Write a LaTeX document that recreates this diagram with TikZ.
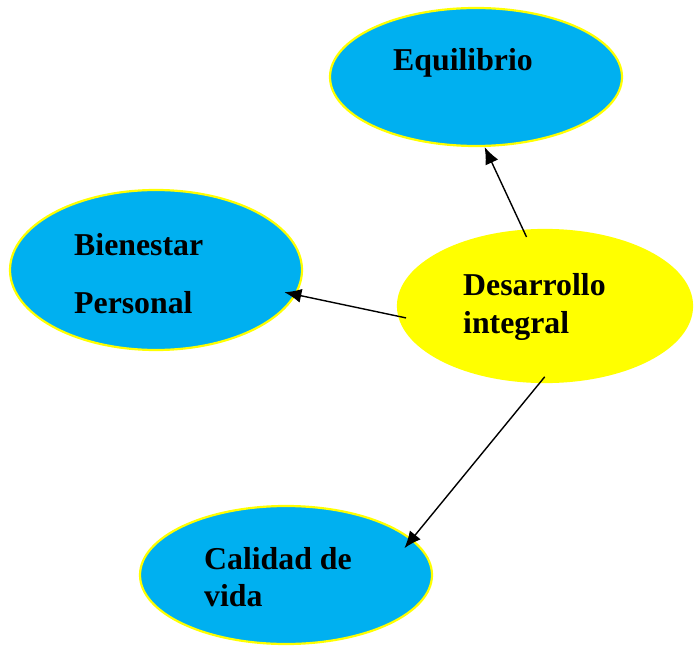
\documentclass[tikz,border=0pt]{standalone}
\usepackage{fontspec}
\setmainfont{Liberation Serif}
\usetikzlibrary{shapes.geometric,arrows.meta}

\definecolor{skyblue}{HTML}{00B0F0}
\definecolor{brightyellow}{HTML}{FFFF00}

\tikzset{
    bubble/.style={ellipse, draw=brightyellow, line width=2.2pt, fill=skyblue,
        inner sep=0pt, minimum width=292pt, minimum height=138pt},
    word/.style={anchor=base west, inner sep=0pt,
        font=\fontsize{31.8}{37}\selectfont\bfseries},
    link/.style={-{Latex[length=17pt,width=14pt]}, line width=1.4pt, shorten <=-8pt}
}

\begin{document}
\begin{tikzpicture}[x=1pt, y=1pt]
    \useasboundingbox (0,0) rectangle (698,646);

    % Draw the bubbles
    \node[bubble] (equil) at (476,569) {};
    \node[bubble, minimum height=160pt] (bien) at (156,376) {};
    \node[bubble, fill=brightyellow, minimum width=294pt, minimum height=152pt] (desa) at (545,340) {};
    \node[bubble] (cal) at (286,71) {};

    % Add labels
    \node[word] (equiltxt) at (393,575) {Equilibrio};
    \node[word] (bientxt) at (74,390) {Bienestar};
    \node[word] (perstxt) at (74,333) {Personal};
    \node[word] (desatxt) at (463,350) {Desarrollo};
    \node[word] (integtxt) at (463,313) {integral};
    \node[word] (caltxt) at (204,77) {Calidad de};
    \node[word] (vidatxt) at (204,40) {vida};

    % Draw the arrows
    \draw[link] (desa.106) -- (equil.277);
    \draw[link, shorten >=-12pt] (desa.184) -- (bien.350);
    \draw[link, shorten >=-12pt] (desa.266) -- (cal.16);

\end{tikzpicture}
\end{document}
